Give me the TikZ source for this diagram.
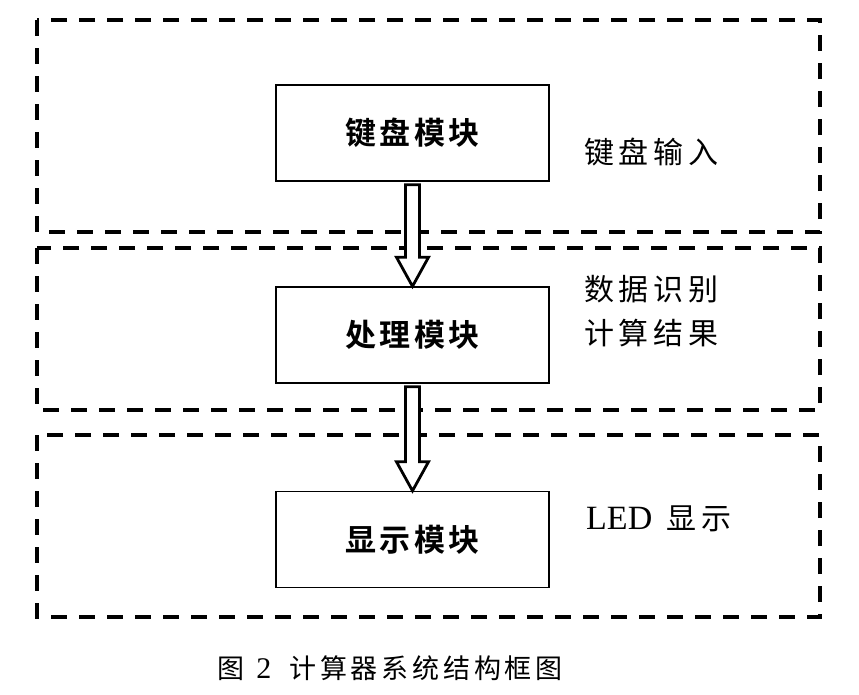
\documentclass[tikz,border=0pt]{standalone}
\usepackage{fontspec}
\setmainfont{Liberation Serif}
\newfontfamily\cjk[LetterSpace=16]{Noto Sans CJK SC}
\newfontfamily\cjkcap[LetterSpace=14]{Noto Sans CJK SC}
\newfontfamily\cjkbold[LetterSpace=11]{Noto Sans CJK SC Bold}
\newfontfamily\latin{Liberation Serif}
\usetikzlibrary{calc}
\tikzset{
  zone/.style={draw, line width=3.5pt, dash pattern=on 16pt off 12pt},
  module/.style={draw, line width=1.4pt, minimum width=273pt, minimum height=96pt,
    inner sep=0pt, font=\cjkbold\fontsize{31pt}{34pt}\selectfont},
  note/.style={font=\cjk\fontsize{30pt}{44pt}\selectfont, align=left, inner sep=0pt},
  hollow/.style={draw, line width=2.8pt, fill=white, line join=miter},
}
\begin{document}
\begin{tikzpicture}[x=1pt,y=-1pt]
  \useasboundingbox (0,0) rectangle (859,694);
  % three dashed zones
  \draw[zone] (37,20) rectangle (820,232);
  \draw[zone] (37,248) rectangle (820,410);
  \draw[zone] (37,435) rectangle (820,617);
  % modules
  \node[module] (kb) at (412.5,133) {键盘模块};
  \node[module] (proc) at (412.5,335) {处理模块};
  \node[module] (disp) at (412.5,539.5) {显示模块};
  % side notes
  \node[note, anchor=west] (n1) at (584,152) {键盘输入};
  \node[note, anchor=west] (n2) at (584,311) {数据识别\\计算结果};
  \node[note, anchor=west] (n3) at (586,519)
    {{\latin\fontsize{34pt}{36pt}\selectfont LED}\hspace{14pt}显示};
  % hollow arrows between modules
  \draw[hollow] ($(kb.south)+(-7,3)$) -- ($(proc.north)+(-7,-29)$) -- ($(proc.north)+(-16,-29)$)
    -- (proc.north) -- ($(proc.north)+(16,-29)$) -- ($(proc.north)+(7,-29)$)
    -- ($(kb.south)+(7,3)$) -- cycle;
  \draw[hollow] ($(proc.south)+(-7,3)$) -- ($(disp.north)+(-7,-29)$) -- ($(disp.north)+(-16,-29)$)
    -- (disp.north) -- ($(disp.north)+(16,-29)$) -- ($(disp.north)+(7,-29)$)
    -- ($(proc.south)+(7,3)$) -- cycle;
  % caption
  \node[font=\cjkcap\fontsize{27pt}{30pt}\selectfont, inner sep=0pt] (cap) at (390,668)
    {图\hspace{12pt}{\latin\fontsize{30pt}{30pt}\selectfont 2}\hspace{18pt}计算器系统结构框图};
\end{tikzpicture}
\end{document}
